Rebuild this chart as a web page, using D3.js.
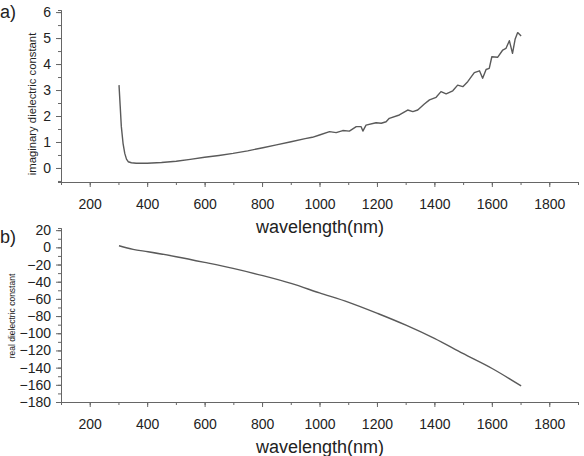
<!DOCTYPE html>
<html>
<head>
<meta charset="utf-8">
<script src="https://cdn.jsdelivr.net/npm/d3@7"></script>
<style>
  body { margin: 0; background: #fff; }
  svg text { font-family: "Liberation Sans", Arial, sans-serif; fill: #222; }
  .axis path, .axis line { stroke: #666; stroke-width: 1; }
  .axis text { font-size: 14px; fill: #222; }
</style>
</head>
<body>
<div class="fig"></div>
<script>
// panel a) imaginary part
const lambdaA = [302, 306, 310, 316, 322, 328, 334, 345, 362, 400, 450, 501, 550, 600, 650, 699, 750, 803, 850, 901, 950, 975, 1000, 1035, 1058, 1081, 1104, 1128, 1145, 1151, 1162, 1197, 1215, 1232, 1243, 1278, 1307, 1325, 1342, 1365, 1383, 1406, 1423, 1441, 1464, 1481, 1499, 1516, 1539, 1557, 1568, 1580, 1591, 1600, 1620, 1638, 1649, 1661, 1672, 1681, 1690, 1702]
const imagA = [3.19, 2.4, 1.6, 0.95, 0.56, 0.34, 0.24, 0.2, 0.18, 0.18, 0.21, 0.26, 0.33, 0.41, 0.48, 0.56, 0.66, 0.78, 0.89, 1.01, 1.13, 1.18, 1.27, 1.4, 1.36, 1.44, 1.42, 1.59, 1.59, 1.42, 1.65, 1.74, 1.72, 1.78, 1.91, 2.04, 2.23, 2.17, 2.23, 2.46, 2.62, 2.72, 2.94, 2.85, 2.97, 3.19, 3.13, 3.32, 3.67, 3.74, 3.45, 3.79, 3.83, 4.28, 4.26, 4.54, 4.6, 4.9, 4.41, 4.95, 5.21, 5.08]

// panel b) real part
const lambdaB = [302, 351, 403, 501, 600, 699, 803, 901, 1000, 1102, 1203, 1301, 1400, 1499, 1601, 1702]
const realB = [1.9, -2.4, -5.1, -10.9, -17.5, -24.5, -33, -42, -53, -64, -77, -90.6, -106, -123.5, -141, -161.3]

const xMajor = d3.range(200, 1801, 200)
const xMinor = d3.range(100, 1901, 100)
const yMajorA = d3.range(0, 7, 1)
const yMinorA = d3.range(-0.5, 6.01, 0.5)
const yMajorB = d3.range(-180, 21, 20)
const yMinorB = d3.range(-180, 21, 10)

const width = 584, height = 456
const left = 61, right = 578
const fmt = d3.format('d')

const svg = d3.select('.fig').append('svg')
  .attr('width', width)
  .attr('height', height)

const x = d3.scaleLinear().domain([100, 1900]).range([left, right])

function drawPanel(opts) {
  const y = d3.scaleLinear().domain(opts.yDomain).range([opts.bottom, opts.top])
  const g = svg.append('g')

  // minor ticks first
  g.append('g').attr('class', 'axis')
    .attr('transform', `translate(0,${opts.bottom})`)
    .call(d3.axisBottom(x).tickValues(xMinor).tickSize(3).tickFormat(''))
  g.append('g').attr('class', 'axis')
    .attr('transform', `translate(0,${opts.bottom})`)
    .call(d3.axisBottom(x).tickValues(xMajor).tickSize(5).tickSizeOuter(0).tickPadding(12).tickFormat(fmt))

  g.append('g').attr('class', 'axis')
    .attr('transform', `translate(${left},0)`)
    .call(d3.axisLeft(y).tickValues(opts.yMinor).tickSize(3).tickFormat(''))
  g.append('g').attr('class', 'axis')
    .attr('transform', `translate(${left},0)`)
    .call(d3.axisLeft(y).tickValues(opts.yMajor).tickSize(5).tickSizeOuter(0).tickPadding(5).tickFormat(fmt))

  g.selectAll('.axis text').attr('fill', '#222')

  const line = d3.line()
    .x(d => x(d[0]))
    .y(d => y(d[1]))
    .curve(opts.curve)

  g.append('path')
    .datum(opts.xs.map((v, i) => [v, opts.ys[i]]))
    .attr('fill', 'none')
    .attr('stroke', '#5a5a5a')
    .attr('stroke-width', 1.4)
    .attr('stroke-linejoin', 'round')
    .attr('d', line)

  g.append('text')
    .attr('x', 320).attr('y', opts.bottom + 51)
    .attr('text-anchor', 'middle')
    .style('font-size', '18px')
    .text('wavelength(nm)')

  g.append('text')
    .attr('transform', `translate(${opts.ytitleX},${opts.ytitleY}) rotate(-90)`)
    .attr('text-anchor', 'middle')
    .style('font-size', opts.ytitleSize + 'px')
    .attr('fill', '#333')
    .text(opts.ytitle)

  g.append('text')
    .attr('x', 0).attr('y', opts.labelY)
    .style('font-size', '18px')
    .text(opts.label)
}

drawPanel({
  xs: lambdaA, ys: imagA,
  yDomain: [-0.54, 6.08], top: 10, bottom: 182,
  yMajor: yMajorA, yMinor: yMinorA,
  curve: d3.curveLinear,
  ytitle: 'imaginary dielectric constant', ytitleX: 36, ytitleY: 104, ytitleSize: 11.3,
  label: 'a)', labelY: 18
})

drawPanel({
  xs: lambdaB, ys: realB,
  yDomain: [-180, 22.5], top: 228, bottom: 402,
  yMajor: yMajorB, yMinor: yMinorB,
  curve: d3.curveMonotoneX,
  ytitle: 'real dielectric constant', ytitleX: 15, ytitleY: 316, ytitleSize: 8.5,
  label: 'b)', labelY: 243
})
</script>
</body>
</html>
